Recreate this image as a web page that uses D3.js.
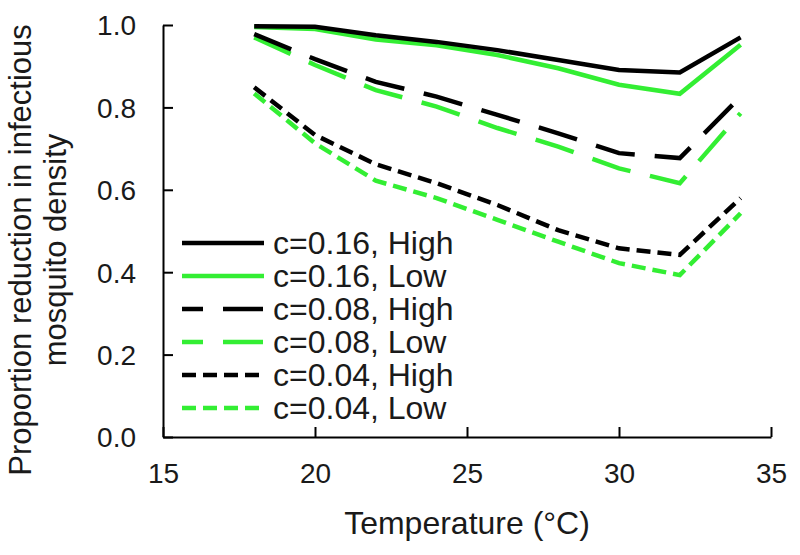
<!DOCTYPE html>
<html>
<head>
<meta charset="utf-8">
<script src="https://cdn.jsdelivr.net/npm/d3@7"></script>
<style>
  html, body { margin: 0; padding: 0; background: #fff; }
  svg { display: block; font-family: "Liberation Sans", Arial, sans-serif; }
</style>
</head>
<body>
<svg id="chart" width="800" height="555"></svg>
<script>
const temperature = [18, 20, 22, 24, 26, 28, 30, 32, 34];
const c016High = [0.997, 0.996, 0.975, 0.959, 0.939, 0.915, 0.891, 0.885, 0.970];
const c016Low  = [0.995, 0.990, 0.965, 0.951, 0.927, 0.895, 0.855, 0.833, 0.952];
const c008High = [0.978, 0.917, 0.862, 0.826, 0.782, 0.737, 0.689, 0.677, 0.826];
const c008Low  = [0.970, 0.903, 0.842, 0.802, 0.750, 0.705, 0.652, 0.616, 0.786];
const c004High = [0.849, 0.733, 0.662, 0.616, 0.563, 0.502, 0.458, 0.442, 0.580];
const c004Low  = [0.834, 0.713, 0.622, 0.580, 0.527, 0.474, 0.422, 0.393, 0.543];
const seriesNames = ["c=0.16, High", "c=0.16, Low", "c=0.08, High", "c=0.08, Low", "c=0.04, High", "c=0.04, Low"];
const xTicks = [15, 20, 25, 30, 35];
const yTicks = [0.0, 0.2, 0.4, 0.6, 0.8, 1.0];

const BLACK = "#000000", GREEN = "#33ee33";
const series = [
  { name: seriesNames[0], values: c016High, color: BLACK, dash: null },
  { name: seriesNames[1], values: c016Low,  color: GREEN, dash: null },
  { name: seriesNames[2], values: c008High, color: BLACK, dash: "40,20" },
  { name: seriesNames[3], values: c008Low,  color: GREEN, dash: "40,20" },
  { name: seriesNames[4], values: c004High, color: BLACK, dash: "14,7" },
  { name: seriesNames[5], values: c004Low,  color: GREEN, dash: "14,7" }
];

const svg = d3.select("#chart");
const x = d3.scaleLinear().domain([15, 35]).range([163, 771]);
const y = d3.scaleLinear().domain([0, 1]).range([437, 25]);

// series lines
const line = d3.line().x((d, i) => x(temperature[i])).y(d => y(d));
[5, 4, 3, 2, 1, 0].forEach(k => {
  const s = series[k];
  svg.append("path")
    .datum(s.values)
    .attr("d", line)
    .attr("fill", "none")
    .attr("stroke", s.color)
    .attr("stroke-width", 4.5)
    .attr("stroke-dasharray", s.dash)
    .attr("stroke-linejoin", "miter");
});

// axes
const xAxis = d3.axisBottom(x).tickValues(xTicks).tickSizeInner(-10).tickSizeOuter(0).tickFormat(d3.format("d"));
const yAxis = d3.axisLeft(y).tickValues(yTicks).tickSizeInner(-10).tickSizeOuter(0).tickFormat(d3.format(".1f"));

const gx = svg.append("g").attr("transform", "translate(0,437)").call(xAxis);
const gy = svg.append("g").attr("transform", "translate(163,0)").call(yAxis);

[gx, gy].forEach(g => {
  g.select(".domain").attr("stroke", "#000").attr("stroke-width", 2);
  g.selectAll(".tick line").attr("stroke", "#000").attr("stroke-width", 2);
  g.selectAll(".tick text").attr("fill", "#1a1a1a").attr("font-size", 28)
    .attr("font-family", "'Liberation Sans', Arial, sans-serif");
});
gx.selectAll(".tick text").attr("y", 36).attr("dy", "0.35em");
gy.selectAll(".tick text").attr("x", -27).attr("dy", "0.35em");

// axis titles
svg.append("text")
  .attr("x", x(25)).attr("y", 523)
  .attr("text-anchor", "middle").attr("dominant-baseline", "central")
  .attr("font-size", 32).attr("fill", "#1a1a1a")
  .text("Temperature (°C)");

const yTitle = svg.append("text")
  .attr("transform", "translate(0,250) rotate(-90)")
  .attr("text-anchor", "middle")
  .attr("font-size", 31).attr("fill", "#1a1a1a");
yTitle.append("tspan").attr("x", 0).attr("y", 31).text("Proportion reduction in infectious");
yTitle.append("tspan").attr("x", 0).attr("y", 66).text("mosquito density");

// legend
const legend = svg.append("g");
const rowY = d3.scalePoint().domain(seriesNames).range([243, 408]);
series.forEach(s => {
  const yy = rowY(s.name);
  legend.append("line")
    .attr("x1", 182).attr("x2", 264)
    .attr("y1", yy).attr("y2", yy)
    .attr("stroke", s.color).attr("stroke-width", 4.5)
    .attr("stroke-dasharray", s.dash)
    .attr("stroke-dashoffset", s.dash === "40,20" ? 19 : 0);
  legend.append("text")
    .attr("x", 273).attr("y", yy)
    .attr("dominant-baseline", "central")
    .attr("font-size", 32).attr("fill", "#1a1a1a")
    .text(s.name);
});
</script>
</body>
</html>
